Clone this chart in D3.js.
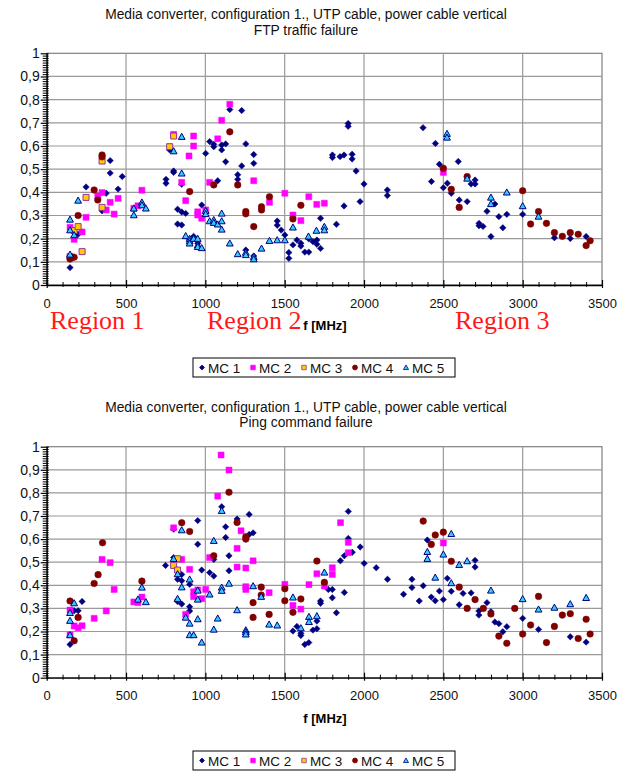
<!DOCTYPE html>
<html>
<head>
<meta charset="utf-8">
<script src="https://cdnjs.cloudflare.com/ajax/libs/d3/7.8.5/d3.min.js"></script>
<style>
    body { margin: 0; background: #fff; }
    svg text { font-family: "Liberation Sans", Arial, sans-serif; }
</style>
</head>
<body>
<svg width="627" height="771"></svg>
<script>
// ---- data ----
var seriesNames = ["MC 1", "MC 2", "MC 3", "MC 4", "MC 5"];
var xTicks = [0, 500, 1000, 1500, 2000, 2500, 3000, 3500];
var yTicks = [0, 0.1, 0.2, 0.3, 0.4, 0.5, 0.6, 0.7, 0.8, 0.9, 1];
var titleLine1 = "Media converter, configuration 1., UTP cable, power cable vertical";
var ftpTitle2 = "FTP traffic failure";
var pingTitle2 = "Ping command failure";
var xLabel = "f [MHz]";
var regionLabels = ["Region 1", "Region 2", "Region 3"];

// FTP traffic failure, [f MHz, level]
var ftpMC1 = [[147,0.075],[198,0.219],[248,0.423],[349,0.32],[375,0.396],[400,0.537],[400,0.483],[450,0.414],[476,0.468],
    [752,0.456],[752,0.439],[775,0.583],[800,0.492],[800,0.486],[851,0.435],[825,0.327],[825,0.263],[851,0.259],[851,0.315],[876,0.309],
    [901,0.197],[926,0.21],[952,0.18],[977,0.345],[1002,0.568],[1027,0.619],[1053,0.607],[1053,0.597],[1103,0.604],[1128,0.609],[1103,0.583],
    [1154,0.757],[1229,0.753],[1255,0.609],[1305,0.563],[1078,0.45],[1128,0.532],[1204,0.476],[1204,0.456],[1229,0.514],[1305,0.525],
    [1255,0.151],[1305,0.125],[1453,0.276],[1453,0.258],[1478,0.237],[1501,0.216],[1526,0.14],[1526,0.115],[1552,0.173],[1577,0.194],
    [1602,0.18],[1602,0.168],[1627,0.142],[1652,0.142],[1652,0.199],[1678,0.187],[1703,0.194],[1703,0.176],[1726,0.158],[1726,0.288],
    [1826,0.262],[1874,0.341],[1801,0.561],[1801,0.55],[1849,0.554],[1874,0.561],[1925,0.564],[1925,0.544],[1950,0.492],[1975,0.36],
    [2000,0.436],[1900,0.697],[1900,0.685],[2147,0.41],[2147,0.386],[2372,0.679],[2450,0.611],[2475,0.521],[2425,0.447],[2500,0.42],
    [2525,0.439],[2550,0.396],[2600,0.367],[2650,0.36],[2594,0.533],[2675,0.436],[2700,0.436],[2700,0.453],[2725,0.266],[2725,0.256],
    [2750,0.253],[2775,0.318],[2825,0.35],[2800,0.209],[2850,0.295],[2875,0.247],[2900,0.305],[3000,0.305],[3200,0.204],[3300,0.201],[3400,0.209]];
var ftpMC2 = [[147,0.249],[173,0.197],[223,0.229],[248,0.292],[322,0.384],[349,0.399],[375,0.324],[400,0.357],[425,0.306],[450,0.374],
    [549,0.331],[575,0.342],[600,0.409],[800,0.65],[851,0.443],[876,0.364],[897,0.557],[926,0.643],[926,0.6],[952,0.316],[952,0.302],
    [977,0.288],[1002,0.324],[1027,0.443],[1078,0.631],[1103,0.711],[1154,0.78],[1305,0.45],[1404,0.357],[1501,0.396],[1552,0.302],
    [1602,0.278],[1652,0.381],[1702,0.348],[1750,0.353],[2500,0.486]];
var ftpMC3 = [[147,0.122],[173,0.235],[198,0.252],[223,0.144],[248,0.378],[349,0.535],[349,0.335],[775,0.597],[800,0.643]];
var ftpMC4 = [[147,0.112],[160,0.12],[173,0.12],[198,0.30],[299,0.41],[322,0.367],[349,0.561],[349,0.553],[901,0.403],[1053,0.432],
    [1154,0.661],[1204,0.432],[1255,0.317],[1255,0.307],[1305,0.252],[1354,0.338],[1354,0.324],[1404,0.381],[1552,0.285],[1602,0.344],
    [2500,0.504],[2550,0.413],[2600,0.335],[2650,0.468],[3000,0.407],[3050,0.263],[3100,0.317],[3150,0.266],[3200,0.226],[3250,0.21],
    [3300,0.226],[3350,0.219],[3400,0.17],[3425,0.191]];
var ftpMC5 = [[147,0.283],[147,0.237],[147,0.132],[173,0.216],[198,0.365],[549,0.331],[549,0.302],[600,0.357],[600,0.345],[625,0.331],
    [800,0.578],[851,0.64],[851,0.482],[876,0.212],[901,0.2],[901,0.19],[901,0.18],[926,0.2],[952,0.2],[952,0.172],[952,0.165],[977,0.16],
    [1002,0.32],[1002,0.307],[1027,0.276],[1053,0.281],[1053,0.269],[1078,0.262],[1103,0.309],[1103,0.276],[1103,0.24],[1154,0.18],
    [1204,0.134],[1255,0.14],[1255,0.13],[1305,0.122],[1305,0.112],[1354,0.158],[1404,0.191],[1453,0.194],[1501,0.194],[1552,0.249],
    [1650,0.21],[1700,0.235],[1750,0.252],[1750,0.237],[2523,0.653],[2523,0.637],[2650,0.46],[2800,0.378],[2800,0.35],[2900,0.4],
    [3000,0.341],[3100,0.296]];

// Ping command failure, [f MHz, level]
var pingMC1 = [[147,0.144],[173,0.29],[198,0.29],[223,0.33],[749,0.486],[800,0.643],[800,0.52],[851,0.447],[825,0.426],[851,0.42],
    [825,0.336],[825,0.33],[851,0.319],[901,0.404],[901,0.307],[901,0.289],[952,0.68],[952,0.578],[977,0.466],[1053,0.512],[1027,0.455],
    [1053,0.44],[1103,0.74],[1128,0.653],[1128,0.607],[1149,0.528],[1149,0.463],[1200,0.687],[1276,0.707],[1276,0.62],[1301,0.627],
    [1552,0.202],[1577,0.222],[1602,0.192],[1602,0.183],[1627,0.144],[1652,0.152],[1678,0.206],[1703,0.212],[1703,0.245],[1726,0.332],
    [1726,0.322],[1775,0.382],[1800,0.382],[1800,0.346],[1826,0.281],[1851,0.506],[1876,0.528],[1876,0.369],[1901,0.603],[1901,0.72],
    [1926,0.543],[1976,0.566],[2001,0.495],[2077,0.476],[2148,0.426],[2249,0.361],[2302,0.426],[2302,0.39],[2348,0.332],[2373,0.398],
    [2399,0.596],[2424,0.349],[2449,0.333],[2475,0.375],[2500,0.338],[2525,0.43],[2550,0.374],[2600,0.316],[2624,0.365],[2675,0.367],
    [2700,0.508],[2700,0.479],[2724,0.289],[2724,0.271],[2775,0.325],[2800,0.286],[2825,0.241],[2850,0.234],[2875,0.199],[2900,0.221],
    [3000,0.257],[3100,0.209],[3300,0.177],[3400,0.154]];
var pingMC2 = [[147,0.293],[147,0.185],[173,0.224],[198,0.216],[223,0.225],[299,0.257],[349,0.512],[375,0.289],[400,0.498],[425,0.382],
    [549,0.328],[575,0.325],[600,0.349],[800,0.649],[851,0.512],[876,0.274],[901,0.469],[926,0.372],[926,0.351],[952,0.38],[977,0.342],
    [1002,0.382],[1027,0.52],[1078,0.786],[1099,0.964],[1149,0.899],[1200,0.56],[1200,0.479],[1225,0.636],[1255,0.475],[1255,0.394],
    [1255,0.382],[1301,0.506],[1402,0.368],[1501,0.404],[1552,0.313],[1602,0.297],[1653,0.403],[1703,0.45],[1750,0.397],[1800,0.476],
    [1800,0.447],[1852,0.671],[1901,0.586],[1901,0.541],[2500,0.583]];
var pingMC3 = [[800,0.486],[825,0.515],[825,0.466]];
var pingMC4 = [[147,0.332],[173,0.16],[198,0.261],[299,0.408],[324,0.446],[352,0.584],[600,0.418],[851,0.671],[901,0.633],[1053,0.528],
    [1149,0.803],[1200,0.672],[1255,0.61],[1255,0.6],[1301,0.325],[1301,0.261],[1352,0.392],[1352,0.358],[1402,0.274],[1501,0.385],
    [1501,0.333],[1552,0.283],[1602,0.341],[1703,0.505],[1750,0.413],[2373,0.678],[2424,0.577],[2449,0.618],[2500,0.63],[2550,0.504],
    [2600,0.392],[2650,0.3],[2700,0.338],[2752,0.3],[2800,0.276],[2850,0.18],[2900,0.149],[2950,0.3],[3000,0.189],[3050,0.228],
    [3100,0.352],[3150,0.152],[3200,0.222],[3250,0.271],[3300,0.277],[3350,0.17],[3400,0.253],[3425,0.189]];
var pingMC5 = [[147,0.281],[147,0.247],[147,0.185],[173,0.323],[575,0.339],[600,0.391],[625,0.328],[800,0.515],[825,0.449],[851,0.392],
    [851,0.639],[825,0.342],[876,0.261],[901,0.426],[901,0.235],[901,0.185],[926,0.185],[952,0.378],[952,0.339],[952,0.254],[977,0.153],
    [1027,0.361],[1053,0.209],[1053,0.593],[1078,0.257],[1103,0.391],[1103,0.377],[1103,0.723],[1149,0.408],[1200,0.293],[1255,0.206],
    [1255,0.198],[1255,0.188],[1301,0.397],[1352,0.351],[1402,0.231],[1453,0.227],[1552,0.348],[1602,0.215],[1653,0.264],[1653,0.242],
    [1703,0.267],[1750,0.456],[2399,0.545],[2399,0.515],[2449,0.434],[2500,0.534],[2550,0.623],[2550,0.41],[2600,0.489],[2650,0.505],
    [2800,0.378],[3000,0.341],[3100,0.296],[3200,0.304],[3300,0.319],[3400,0.346]];

// ---- drawing ----
var svg = d3.select("svg");

var x = d3.scaleLinear().domain([0, 3500]).range([46.7, 602]);

var styles = [
    {shape: "diamond", fill: "#000080", stroke: "#000080", r: 3.2},
    {shape: "square",  fill: "#FF00FF", stroke: "#FF00FF", r: 3},
    {shape: "square",  fill: "#FFCC00", stroke: "#993399", r: 3},
    {shape: "circle",  fill: "#800000", stroke: "#800000", r: 3.3},
    {shape: "triangle", fill: "#33CCFF", stroke: "#000080", r: 3.4}
];

function markerPath(shape, r) {
    if (shape == "diamond") return "M0," + (-r) + "L" + r + ",0L0," + r + "L" + (-r) + ",0Z";
    if (shape == "square") return "M" + (-r) + "," + (-r) + "h" + (2*r) + "v" + (2*r) + "h" + (-2*r) + "Z";
    if (shape == "triangle") return "M0," + (-r) + "L" + r + "," + (r*0.8) + "L" + (-r) + "," + (r*0.8) + "Z";
    return d3.symbol(d3.symbolCircle, Math.PI * r * r)();
}

function drawChart(cfg) {
    var y = d3.scaleLinear().domain([0, 1]).range([cfg.bottom, cfg.top]);
    var g = svg.append("g");

    // titles
    g.append("text").attr("x", 306).attr("y", cfg.titleY).attr("text-anchor", "middle")
        .attr("font-size", "13.8px").attr("fill", "#111").text(titleLine1);
    g.append("text").attr("x", 306).attr("y", cfg.titleY + 15.5).attr("text-anchor", "middle")
        .attr("font-size", "13.8px").attr("fill", "#111").text(cfg.title2);

    // plot border + grid
    g.append("rect").attr("x", x(0)).attr("y", y(1)).attr("width", x(3500) - x(0)).attr("height", y(0) - y(1))
        .attr("fill", "none").attr("stroke", "#808080").attr("stroke-width", 1.2);
    g.selectAll(".hgrid").data(yTicks.filter(function(d) { return d > 0 && d < 1; }))
        .enter().append("line")
        .attr("x1", x(0)).attr("x2", x(3500))
        .attr("y1", function(d) { return y(d); }).attr("y2", function(d) { return y(d); })
        .attr("stroke", "#999").attr("stroke-width", 1.2);
    g.selectAll(".vgrid").data(xTicks.filter(function(d) { return d > 0 && d < 3500; }))
        .enter().append("line")
        .attr("y1", y(0)).attr("y2", y(1))
        .attr("x1", function(d) { return x(d); }).attr("x2", function(d) { return x(d); })
        .attr("stroke", "#999").attr("stroke-width", 1.2);

    // minor ticks
    var yMinor = d3.range(0, 101).filter(function(i) { return i % 10 != 0; }).map(function(i) { return i / 100; });
    g.append("g").attr("transform", "translate(" + x(0) + ",0)")
        .call(d3.axisLeft(y).tickValues(yMinor).tickSize(4).tickSizeOuter(0).tickFormat(""))
        .call(function(a) { a.select(".domain").remove(); a.selectAll("line").attr("x1", 2).attr("stroke", "#000"); });
    var xMinor = d3.range(0, 3501, 100).filter(function(d) { return d % 500 != 0; });
    g.append("g").attr("transform", "translate(0," + y(0) + ")")
        .call(d3.axisBottom(x).tickValues(xMinor).tickSize(2).tickSizeOuter(0).tickFormat(""))
        .call(function(a) { a.select(".domain").remove(); a.selectAll("line").attr("y1", -3).attr("stroke", "#000"); });

    // y axis
    g.append("g").attr("transform", "translate(" + x(0) + ",0)")
        .call(d3.axisLeft(y).tickValues(yTicks).tickSize(6).tickSizeOuter(0).tickPadding(1)
            .tickFormat(function(d) { return String(+d.toFixed(1)).replace(".", ","); }))
        .call(function(a) {
            a.select(".domain").attr("stroke", "#000").attr("stroke-width", 1.3);
            a.selectAll("line").attr("x1", 2).attr("stroke", "#000").attr("stroke-width", 1.2);
            a.selectAll("text").attr("font-size", "14px").attr("fill", "#111")
                .attr("font-family", "'Liberation Sans', Arial, sans-serif");
        });

    // x axis
    g.append("g").attr("transform", "translate(0," + y(0) + ")")
        .call(d3.axisBottom(x).tickValues(xTicks).tickSize(3).tickSizeOuter(0).tickFormat(d3.format("d")))
        .call(function(a) {
            a.select(".domain").attr("stroke", "#000").attr("stroke-width", 1.3);
            a.selectAll("line").attr("y1", -5).attr("stroke", "#000").attr("stroke-width", 1.2);
            a.selectAll("text").attr("y", 22.5).attr("dy", null).attr("font-size", "13px").attr("fill", "#111")
                .attr("font-family", "'Liberation Sans', Arial, sans-serif");
        });

    g.append("text").attr("x", 325).attr("y", cfg.xLabelY).attr("text-anchor", "middle")
        .attr("font-size", "13px").attr("font-weight", "bold").text(xLabel);

    // points
    cfg.series.forEach(function(data, i) {
        var st = styles[i];
        g.append("g").selectAll("path").data(data).enter().append("path")
            .attr("d", markerPath(st.shape, st.r))
            .attr("transform", function(d) { return "translate(" + x(d[0]) + "," + y(d[1]) + ")"; })
            .attr("fill", st.fill).attr("stroke", st.stroke).attr("stroke-width", st.shape == "triangle" || i == 2 ? 1 : 0.5);
    });

    // legend
    var lg = g.append("g").attr("transform", "translate(193," + cfg.legendY + ")");
    lg.append("rect").attr("width", 262).attr("height", 19).attr("fill", "#fff").attr("stroke", "#000");
    seriesNames.forEach(function(name, i) {
        var st = styles[i];
        var ox = 9 + i * 51;
        lg.append("path").attr("d", markerPath(st.shape, st.r * 0.75))
            .attr("transform", "translate(" + ox + ",9.5)")
            .attr("fill", st.fill).attr("stroke", st.stroke).attr("stroke-width", 0.8);
        lg.append("text").attr("x", ox + 6).attr("y", 14.5).attr("font-size", "13.5px").attr("fill", "#111").text(name);
    });
}

drawChart({top: 53.3, bottom: 285, titleY: 19, title2: ftpTitle2, xLabelY: 330, legendY: 358,
    series: [ftpMC1, ftpMC2, ftpMC3, ftpMC4, ftpMC5]});
drawChart({top: 446.7, bottom: 677.7, titleY: 411.5, title2: pingTitle2, xLabelY: 723, legendY: 751,
    series: [pingMC1, pingMC2, pingMC3, pingMC4, pingMC5]});

// region labels on the upper chart
var regionX = [50, 207, 455];
regionLabels.forEach(function(t, i) {
    svg.append("text").attr("x", regionX[i]).attr("y", 329)
        .style("font-family", "'Liberation Serif', 'Times New Roman', serif")
        .attr("font-size", "26px").attr("fill", "#FF1A1A").text(t);
});
</script>
</body>
</html>
